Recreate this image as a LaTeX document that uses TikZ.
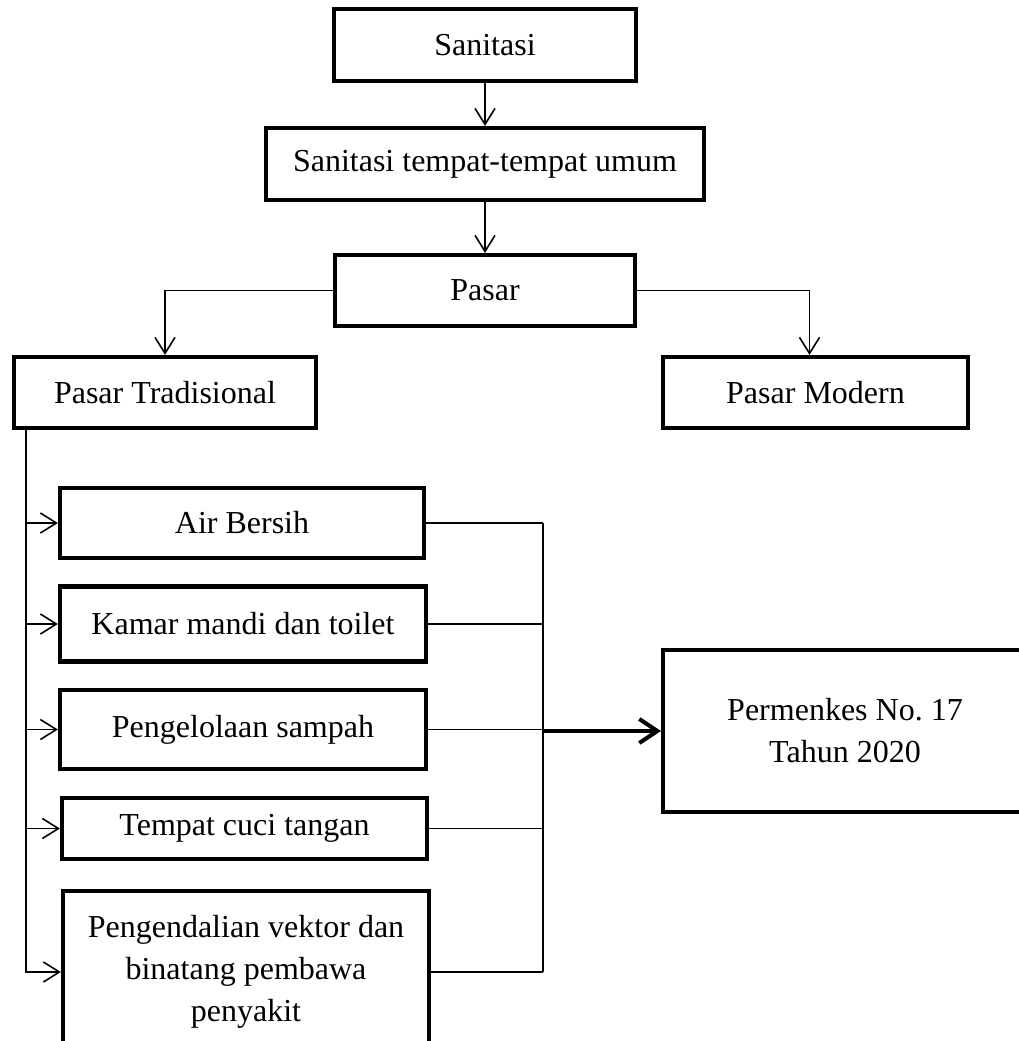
\documentclass[tikz,border=0pt]{standalone}
\usepackage{fontspec}
\setmainfont{Liberation Serif}
\usetikzlibrary{arrows.meta}

\begin{document}
\begin{tikzpicture}[x=0.5pt,y=-0.5pt]
\par
\tikzstyle{kotak}=[draw,line width=2.1pt,align=center,inner sep=0pt,font=\fontsize{16}{21}\selectfont]
\tikzstyle{panah}=[-{Straight Barb[length=8pt,width=10pt]},line width=0.8pt]
\tikzstyle{garis}=[line width=0.8pt]
\useasboundingbox (0,0) rectangle (1019,1041) ;
\clip (0,0) rectangle (1019,1041) ;
\par
\node[kotak,minimum width=151pt,minimum height=36pt] (sanitasi) at (485,45) {Sanitasi} ;
\node[kotak,minimum width=219pt,minimum height=36pt] (ttu) at (485,164) {Sanitasi tempat-tempat umum} ;
\node[kotak,minimum width=150pt,minimum height=35.5pt] (pasar) at (485,290.5) {Pasar} ;
\node[kotak,minimum width=151pt,minimum height=35.5pt] (trad) at (165,392.5) {Pasar Tradisional} ;
\node[kotak,minimum width=152.5pt,minimum height=35.5pt] (modern) at (815.5,392.5) {Pasar Modern} ;
\par
\node[kotak,minimum width=182pt,minimum height=35pt] (air) at (242,523) {Air Bersih} ;
\node[kotak,minimum width=183pt,minimum height=37.5pt] (kamar) at (243,624) {Kamar mandi dan toilet} ;
\node[kotak,minimum width=183pt,minimum height=39.5pt] (kelola) at (243,729.5) {Pengelolaan sampah} ;
\node[kotak,minimum width=182.5pt,minimum height=30.5pt] (cuci) at (244.5,828.5) {Tempat cuci tangan} ;
\node[kotak,minimum width=183pt,minimum height=81pt] (vektor) at (246,972) {Pengendalian vektor dan\\binatang pembawa\\penyakit} ;
\node[kotak,minimum width=182pt,minimum height=81pt] (permenkes) at (845,731) {Permenkes No.\ 17\\Tahun 2020} ;
\par
\draw[panah] (sanitasi.south) -- (ttu.north) ;
\draw[panah] (ttu.south) -- (pasar.north) ;
\draw[panah] (pasar.west) -| (trad.north) ;
\draw[panah] (pasar.east) -| ([xshift=-3pt]modern.north) ;
\par
\coordinate (cabang) at ([xshift=7pt]trad.south west) ;
\coordinate (rel) at (543,523) ;
\foreach \k in {air,kamar,kelola,cuci,vektor} {
  \draw[panah] (cabang) |- (\k.west) ;
  \draw[garis] (\k.east) -- (\k.east -| rel) ;
}
\draw[garis] (air.east -| rel) -- (vektor.east -| rel) ;
\draw[-{Straight Barb[length=9pt,width=12pt]},line width=2pt] (permenkes.west -| rel) -- (permenkes.west) ;
\par
\end{tikzpicture}
\end{document}
